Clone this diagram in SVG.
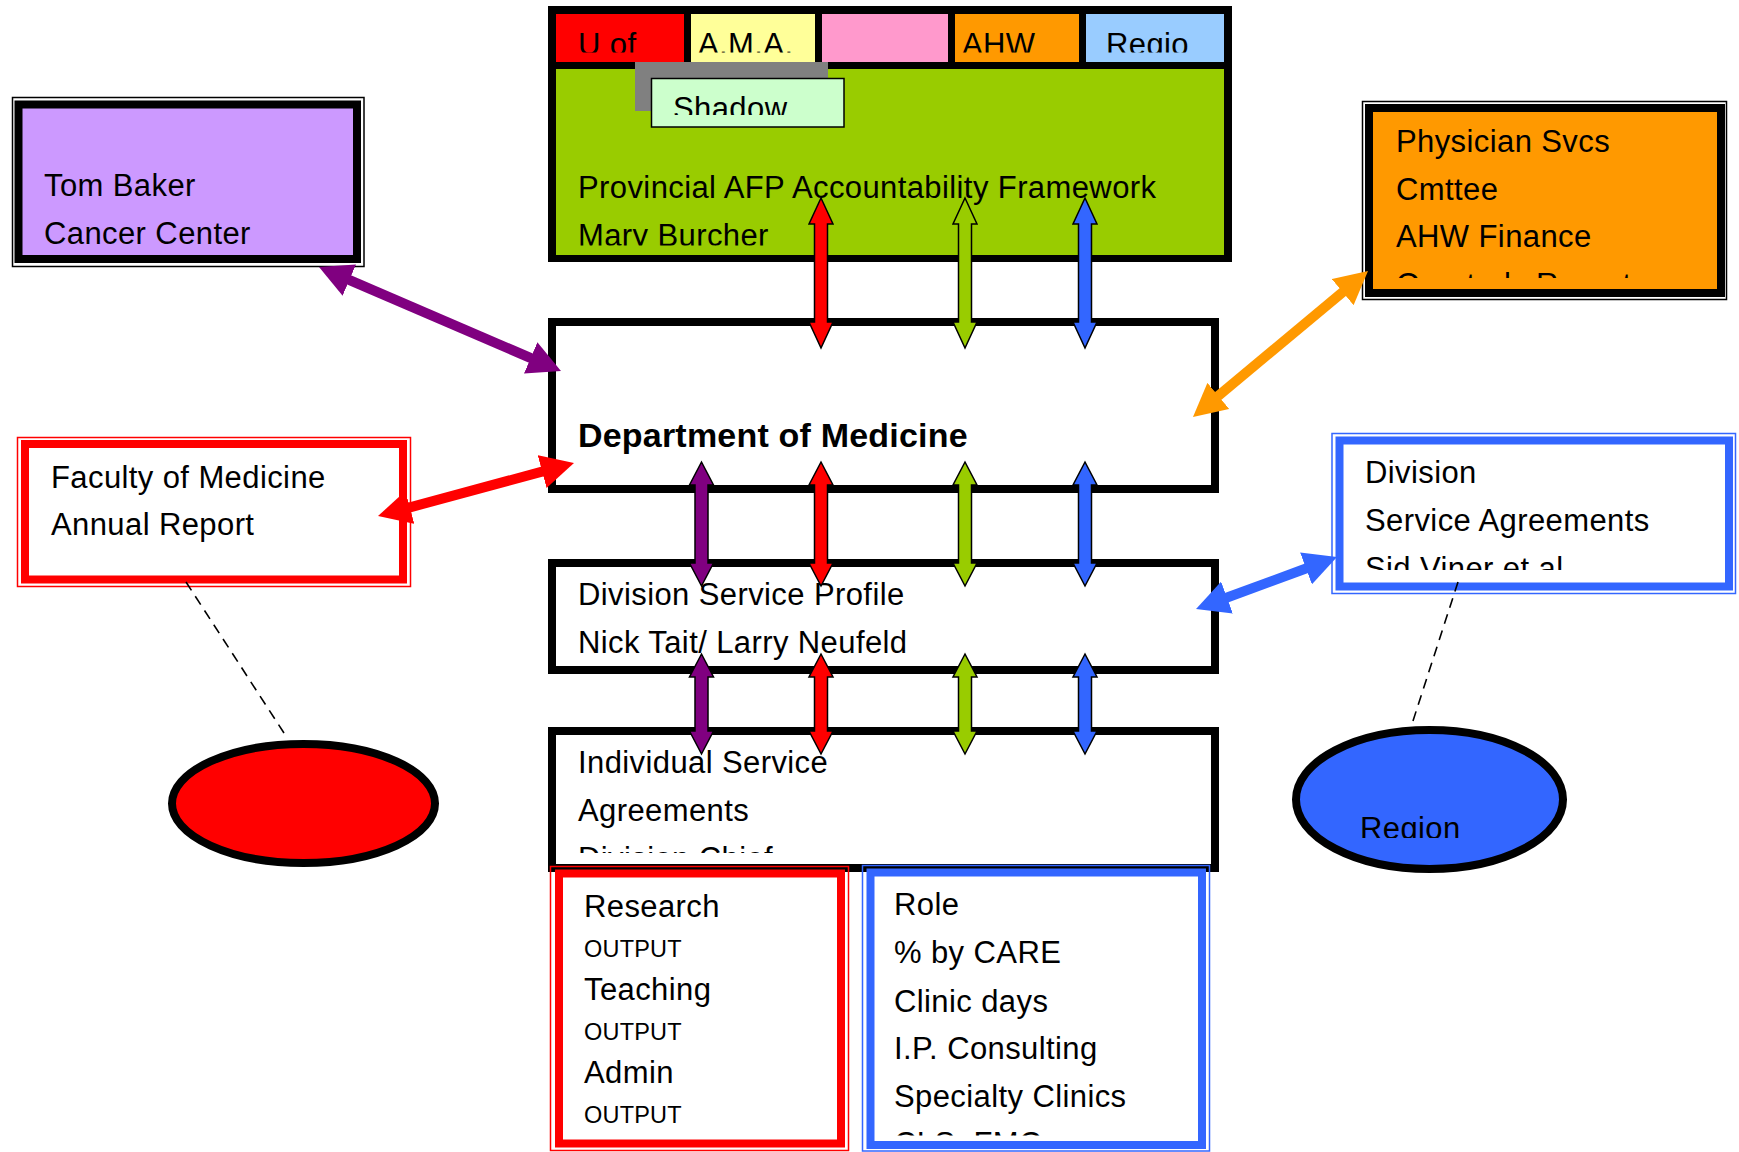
<svg xmlns="http://www.w3.org/2000/svg" width="1739" height="1152" viewBox="0 0 1739 1152">
  <style>
    text { font-family: "Liberation Sans", Arial, Helvetica, sans-serif; font-size: 31px; letter-spacing: 0.4px; fill: #000; }
    .bold { font-weight: bold; font-size: 34px; letter-spacing: 0.2px; }
    .small { font-size: 23.5px; letter-spacing: 0.2px; }
    .frame { fill: none; stroke-width: 1.5; }
    .box { fill: #fff; stroke: #000; stroke-width: 8; }
    .vbar { stroke: #000; stroke-width: 1.5; stroke-linejoin: miter; }
    .link { fill: none; stroke-width: 10; }
    .dash { fill: none; stroke: #000; stroke-width: 1.6; stroke-dasharray: 10 7; }
  </style>
  <defs>
    <!-- text areas that cut off overflowing lines -->
    <clipPath id="clip-tabs"><rect x="548" y="0" width="690" height="52.5"/></clipPath>
    <clipPath id="clip-shadow"><rect x="651" y="78" width="194" height="37"/></clipPath>
    <clipPath id="clip-afp"><rect x="556" y="69" width="668" height="176.5"/></clipPath>
    <clipPath id="clip-physician"><rect x="1372" y="112" width="344" height="166"/></clipPath>
    <clipPath id="clip-agreements"><rect x="1342" y="444" width="384" height="126"/></clipPath>
    <clipPath id="clip-individual"><rect x="556" y="735" width="655" height="118"/></clipPath>
    <clipPath id="clip-role"><rect x="874" y="877" width="324" height="258.5"/></clipPath>
    <clipPath id="clip-region"><rect x="1290" y="725" width="280" height="113"/></clipPath>

    <!-- double-ended arrowheads for the thick links -->
    <marker id="head-purple" viewBox="0 0 33 34" refX="18" refY="17" markerWidth="33" markerHeight="34" markerUnits="userSpaceOnUse" orient="auto-start-reverse">
      <path d="M0,0 L33,17 L0,34 z" fill="#800080"/>
    </marker>
    <marker id="head-red" viewBox="0 0 33 34" refX="18" refY="17" markerWidth="33" markerHeight="34" markerUnits="userSpaceOnUse" orient="auto-start-reverse">
      <path d="M0,0 L33,17 L0,34 z" fill="#FF0000"/>
    </marker>
    <marker id="head-orange" viewBox="0 0 33 34" refX="18" refY="17" markerWidth="33" markerHeight="34" markerUnits="userSpaceOnUse" orient="auto-start-reverse">
      <path d="M0,0 L33,17 L0,34 z" fill="#FF9900"/>
    </marker>
    <marker id="head-blue" viewBox="0 0 33 34" refX="18" refY="17" markerWidth="33" markerHeight="34" markerUnits="userSpaceOnUse" orient="auto-start-reverse">
      <path d="M0,0 L33,17 L0,34 z" fill="#3366FF"/>
    </marker>
  </defs>

  <rect width="1739" height="1152" fill="#fff"/>

  <!-- Provincial framework block with its coloured tabs -->
  <g id="afp-framework">
    <rect x="548" y="6" width="684" height="256" fill="#000"/>
    <rect x="556" y="69" width="668" height="186" fill="#99CC00"/>
    <g clip-path="url(#clip-afp)">
      <text x="578" y="198">Provincial AFP Accountability Framework</text>
      <text x="578" y="246">Mary Burcher</text>
    </g>
  </g>
  <g id="tab-uofc">
    <rect x="556" y="14" width="128" height="48" fill="#FF0000"/>
    <text x="578" y="54.5" clip-path="url(#clip-tabs)">U of</text>
  </g>
  <g id="tab-ama">
    <rect x="691" y="14" width="124" height="48" fill="#FFFF99"/>
    <text x="698" y="54.5" clip-path="url(#clip-tabs)">A.M.A.</text>
  </g>
  <g id="tab-pink">
    <rect x="822" y="14" width="126" height="48" fill="#FF99CC"/>
  </g>
  <g id="tab-ahw">
    <rect x="955" y="14" width="124" height="48" fill="#FF9900"/>
    <text x="962" y="54.5" clip-path="url(#clip-tabs)">AHW</text>
  </g>
  <g id="tab-region">
    <rect x="1086" y="14" width="138" height="48" fill="#99CCFF"/>
    <text x="1106" y="54.5" clip-path="url(#clip-tabs)">Regio</text>
  </g>
  <g id="shadow">
    <rect x="635" y="62" width="193" height="49" fill="#808080"/>
    <rect x="651.5" y="78.5" width="192.5" height="48.5" fill="#CCFFCC" stroke="#000" stroke-width="1.5"/>
    <text x="673" y="119" clip-path="url(#clip-shadow)">Shadow</text>
  </g>

  <!-- Tom Baker Cancer Center -->
  <g id="tom-baker">
    <rect class="frame" x="12.5" y="97.5" width="351.5" height="169" stroke="#000"/>
    <rect x="18.5" y="104.5" width="338.5" height="154.5" fill="#CC99FF" stroke="#000" stroke-width="8"/>
    <text x="44" y="196">Tom Baker</text>
    <text x="44" y="244">Cancer Center</text>
  </g>

  <!-- Faculty of Medicine annual report -->
  <g id="faculty-report">
    <rect class="frame" x="17.5" y="437.5" width="393" height="149" stroke="#FF0000"/>
    <rect x="25" y="444" width="378" height="135.5" fill="#fff" stroke="#FF0000" stroke-width="8"/>
    <text x="51" y="488">Faculty of Medicine</text>
    <text x="51" y="535">Annual Report</text>
  </g>

  <!-- Physician Services Committee -->
  <g id="physician-svcs">
    <rect class="frame" x="1362.5" y="101.5" width="364" height="198" stroke="#000"/>
    <rect x="1369" y="108" width="352" height="185" fill="#FF9900" stroke="#000" stroke-width="8"/>
    <g clip-path="url(#clip-physician)">
      <text x="1396" y="152">Physician Svcs</text>
      <text x="1396" y="200">Cmttee</text>
      <text x="1396" y="247">AHW Finance</text>
      <text x="1396" y="295">Quarterly Report</text>
    </g>
  </g>

  <!-- Division service agreements -->
  <g id="division-agreements">
    <rect class="frame" x="1332" y="433.5" width="403.5" height="160" stroke="#3366FF"/>
    <rect x="1339.5" y="440.5" width="389.5" height="146" fill="#fff" stroke="#3366FF" stroke-width="8"/>
    <g clip-path="url(#clip-agreements)">
      <text x="1365" y="483">Division</text>
      <text x="1365" y="531">Service Agreements</text>
      <text x="1365" y="579">Sid Viner et al</text>
    </g>
  </g>

  <!-- Department of Medicine -->
  <g id="department">
    <rect class="box" x="552" y="322" width="663" height="167"/>
    <text class="bold" x="578" y="447">Department of Medicine</text>
  </g>

  <!-- Division service profile -->
  <g id="division-profile">
    <rect class="box" x="552" y="563" width="663" height="107"/>
    <text x="578" y="605">Division Service Profile</text>
    <text x="578" y="653">Nick Tait/ Larry Neufeld</text>
  </g>

  <!-- Individual service agreements -->
  <g id="individual-agreements">
    <rect class="box" x="552" y="731" width="663" height="137"/>
    <g clip-path="url(#clip-individual)">
      <text x="578" y="773">Individual Service</text>
      <text x="578" y="821">Agreements</text>
      <text x="578" y="869">Division Chief</text>
    </g>
  </g>

  <!-- Academic outputs -->
  <g id="outputs">
    <rect class="frame" x="550.5" y="866.5" width="298" height="284" stroke="#FF0000"/>
    <rect x="559" y="873.5" width="282" height="270" fill="#fff" stroke="#FF0000" stroke-width="8"/>
    <text x="584" y="917">Research</text>
    <text class="small" x="584" y="957">OUTPUT</text>
    <text x="584" y="1000">Teaching</text>
    <text class="small" x="584" y="1040">OUTPUT</text>
    <text x="584" y="1083">Admin</text>
    <text class="small" x="584" y="1123">OUTPUT</text>
  </g>

  <!-- Clinical role -->
  <g id="clinical-role">
    <rect class="frame" x="862.5" y="865.5" width="347" height="285.5" stroke="#3366FF"/>
    <rect x="870.5" y="872.5" width="331.5" height="272.5" fill="#fff" stroke="#3366FF" stroke-width="8"/>
    <g clip-path="url(#clip-role)">
      <text x="894" y="915">Role</text>
      <text x="894" y="963">% by CARE</text>
      <text x="894" y="1012">Clinic days</text>
      <text x="894" y="1059">I.P. Consulting</text>
      <text x="894" y="1107">Specialty Clinics</text>
      <text x="894" y="1154">CLS, FMC</text>
    </g>
  </g>

  <!-- University ellipse -->
  <g id="university">
    <ellipse cx="303.5" cy="803.5" rx="131.5" ry="59.5" fill="#FF0000" stroke="#000" stroke-width="8"/>
  </g>

  <!-- Region ellipse -->
  <g id="region">
    <ellipse cx="1429.5" cy="799.5" rx="133.5" ry="69.5" fill="#3366FF" stroke="#000" stroke-width="8"/>
    <text x="1360" y="839" clip-path="url(#clip-region)">Region</text>
  </g>

  <!-- Connectors -->
  <g id="connectors">
    <!-- thick two-way links -->
    <line class="link" x1="332.8" y1="272.9" x2="547.2" y2="365.1" stroke="#800080" marker-start="url(#head-purple)" marker-end="url(#head-purple)"/>
    <line class="link" x1="392.5" y1="512.1" x2="559.5" y2="466.9" stroke="#FF0000" marker-start="url(#head-red)" marker-end="url(#head-red)"/>
    <line class="link" x1="1356.5" y1="280.6" x2="1204.5" y2="407.4" stroke="#FF9900" marker-start="url(#head-orange)" marker-end="url(#head-orange)"/>
    <line class="link" x1="1322.9" y1="562.2" x2="1210.1" y2="603.8" stroke="#3366FF" marker-start="url(#head-blue)" marker-end="url(#head-blue)"/>

    <!-- dashed annotation lines -->
    <line class="dash" x1="186" y1="582" x2="284" y2="733"/>
    <line class="dash" x1="1458" y1="582" x2="1411" y2="727"/>

    <!-- framework to department -->
    <polygon class="vbar" fill="#FF0000" points="821,198 833,224 827.5,224 827.5,322 833,322 821,348 809,322 814.5,322 814.5,224 809,224"/>
    <polygon class="vbar" fill="#99CC00" points="965,198 977,224 971.5,224 971.5,322 977,322 965,348 953,322 958.5,322 958.5,224 953,224"/>
    <polygon class="vbar" fill="#3366FF" points="1085,198 1097,224 1091.5,224 1091.5,322 1097,322 1085,348 1073,322 1078.5,322 1078.5,224 1073,224"/>

    <!-- department to division profile -->
    <polygon class="vbar" fill="#800080" points="701.5,462 713.5,485 708,485 708,563 713.5,563 701.5,586 689.5,563 695,563 695,485 689.5,485"/>
    <polygon class="vbar" fill="#FF0000" points="821,462 833,485 827.5,485 827.5,563 833,563 821,586 809,563 814.5,563 814.5,485 809,485"/>
    <polygon class="vbar" fill="#99CC00" points="965,462 977,485 971.5,485 971.5,563 977,563 965,586 953,563 958.5,563 958.5,485 953,485"/>
    <polygon class="vbar" fill="#3366FF" points="1085,462 1097,485 1091.5,485 1091.5,563 1097,563 1085,586 1073,563 1078.5,563 1078.5,485 1073,485"/>

    <!-- division profile to individual agreements -->
    <polygon class="vbar" fill="#800080" points="701.5,654 713.5,677 708,677 708,731 713.5,731 701.5,754 689.5,731 695,731 695,677 689.5,677"/>
    <polygon class="vbar" fill="#FF0000" points="821,654 833,677 827.5,677 827.5,731 833,731 821,754 809,731 814.5,731 814.5,677 809,677"/>
    <polygon class="vbar" fill="#99CC00" points="965,654 977,677 971.5,677 971.5,731 977,731 965,754 953,731 958.5,731 958.5,677 953,677"/>
    <polygon class="vbar" fill="#3366FF" points="1085,654 1097,677 1091.5,677 1091.5,731 1097,731 1085,754 1073,731 1078.5,731 1078.5,677 1073,677"/>
  </g>
</svg>
